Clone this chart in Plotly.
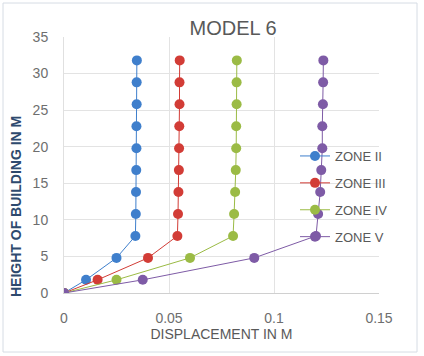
import plotly.graph_objects as go

heights = [0, 1.8, 4.8, 7.8, 10.8, 13.8, 16.8, 19.8, 22.8, 25.8, 28.8, 31.8]
zone_ii = [0, 0.0105, 0.025, 0.034, 0.0342, 0.0343, 0.0344, 0.0345, 0.0345, 0.0346, 0.0346, 0.0347]
zone_iii = [0, 0.016, 0.040, 0.054, 0.0543, 0.0545, 0.0547, 0.0548, 0.0549, 0.055, 0.055, 0.0551]
zone_iv = [0, 0.025, 0.060, 0.0805, 0.081, 0.0815, 0.0818, 0.082, 0.082, 0.0822, 0.0822, 0.0823]
zone_v = [0, 0.0375, 0.0906, 0.120, 0.121, 0.122, 0.1225, 0.123, 0.123, 0.1233, 0.1234, 0.1235]
names = ["ZONE II", "ZONE III", "ZONE IV", "ZONE V"]
colors = ["#3F7FCC", "#D23C36", "#9BBB45", "#7E5BA6"]

fig = go.Figure()
for i, (nm, xs, c) in enumerate(zip(names, [zone_ii, zone_iii, zone_iv, zone_v], colors)):
    fig.add_trace(go.Scatter(
        x=xs, y=heights, mode="lines+markers", name=nm, legendgroup=nm,
        line=dict(color=c, width=1),
        marker=dict(color=c, size=10),
    ))

W, H = 424, 356
ml, mr, mt, mb = 64, 45, 37, 63
pw, ph = W - ml - mr, H - mt - mb
grey = "#595959"
tickgrey = "#6E6E6E"
fig.update_layout(
    width=W, height=H,
    margin=dict(l=ml, r=mr, t=mt, b=mb),
    paper_bgcolor="white", plot_bgcolor="white",
    font=dict(family="Liberation Sans, Arial, sans-serif", size=12, color=grey),
    title=dict(text="MODEL 6", x=(233 - ml) / pw, xref="paper", xanchor="center",
               y=1 - 28 / H, yanchor="middle", font=dict(size=20, color=grey)),
    showlegend=True,
    legend=dict(x=(295 - ml) / pw, y=(293 - 141) / ph, xanchor="left", yanchor="top",
                bgcolor="rgba(0,0,0,0)", tracegroupgap=7,
                font=dict(size=13, color=grey)),
    xaxis=dict(range=[0, 0.15], dtick=0.05, tickformat="~g", showgrid=True,
               gridcolor="#E3E3E3", zeroline=False, showline=True, linecolor="#D0D0D0",
               ticks="", ticklabelstandoff=12, tickfont=dict(size=14, color=tickgrey),
               title=dict(text="DISPLACEMENT IN M", font=dict(size=14, color=grey), standoff=4)),
    yaxis=dict(range=[0, 35], dtick=5, showgrid=True, gridcolor="#E3E3E3",
               zeroline=False, showline=True, linecolor="#E0E0E0", ticks="",
               ticklabelstandoff=12, tickfont=dict(size=14, color=tickgrey)),
)
fig.add_annotation(text="<b>HEIGHT OF BUILDING IN M</b>", textangle=-90,
                   xref="paper", yref="paper", x=(16 - ml) / pw, y=(293 - 207) / ph,
                   xanchor="center", yanchor="middle", showarrow=False,
                   font=dict(size=14, color="#2E4A6E", family="Liberation Sans, Arial"))
fig.add_shape(type="rect", xref="paper", yref="paper",
              x0=(3 - ml) / pw, x1=(417 - ml) / pw, y0=(H - mb - 352) / ph, y1=(H - mb - 3) / ph,
              line=dict(color="#D6DCE4", width=1), fillcolor="rgba(0,0,0,0)", layer="below")
fig.write_html("out.html")
